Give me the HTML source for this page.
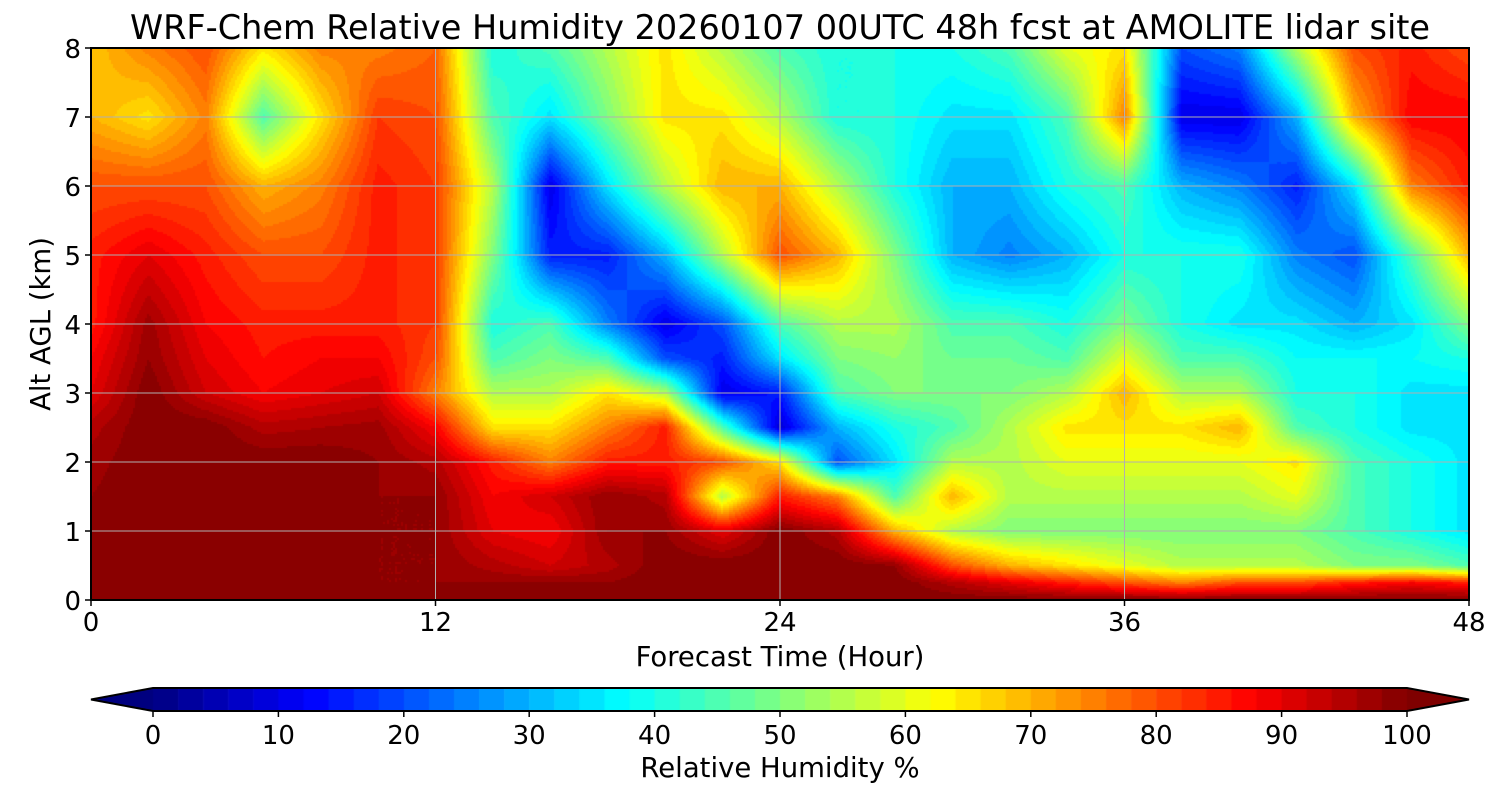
<!DOCTYPE html>
<html><head><meta charset="utf-8"><style>
body{margin:0;background:#fff;width:1500px;height:800px;overflow:hidden;font-family:"Liberation Sans","DejaVu Sans",sans-serif}
svg text{font-family:"DejaVu Sans","Liberation Sans",sans-serif}
</style></head><body>
<div style="position:relative;width:1500px;height:800px">
<canvas id="cv" width="1500" height="800" style="position:absolute;left:0;top:0"></canvas>
<svg id="sv" width="1500" height="800" style="position:absolute;left:0;top:0"></svg>
</div>
<script>
const times=[0,2,4,6,8,10,12,14,16,18,20,22,24,26,28,30,32,34,36,38,40,42,44,46,48];
const heights=[0,0.25,0.5,1,1.5,2,2.5,3,3.5,4,5,6,7,8];
const rh=[
[98,98,98,98,98,97,95,90,88,85,85,80,70,68],
[100,100,100,100,100,100,100,100,98,97,90,80,65,75],
[100,100,100,100,100,100,100,92,90,88,85,80,75,80],
[100,100,100,100,100,100,95,88,86,85,80,70,45,65],
[100,100,100,100,100,100,96,90,88,85,80,75,65,75],
[98,98,98,98,98,98,97,92,88,85,85,85,82,75],
[100,98,98,98,98,95,88,75,80,82,82,82,80,78],
[100,98,95,90,88,85,65,55,45,40,50,55,45,40],
[100,98,92,88,92,75,65,55,50,45,15,10,35,45],
[100,98,95,98,98,85,75,65,45,25,15,35,50,55],
[100,100,100,98,95,85,85,55,20,10,30,55,65,65],
[100,100,100,90,55,80,45,10,15,20,55,70,65,55],
[100,100,100,100,85,65,8,15,35,45,80,70,55,45],
[100,100,100,95,75,20,30,45,50,55,70,55,40,40],
[100,100,98,70,45,35,40,50,52,55,50,40,40,40],
[100,95,80,55,70,55,45,50,48,45,30,30,35,40],
[100,90,70,50,55,55,55,50,48,45,25,30,35,45],
[100,85,65,50,55,60,65,55,45,40,30,40,45,60],
[100,80,60,50,55,60,65,70,60,50,40,45,75,65],
[100,75,55,50,55,60,65,55,45,40,40,30,10,20],
[100,80,55,50,55,60,70,55,45,35,40,25,10,25],
[100,80,55,50,60,65,45,40,38,35,25,15,30,55],
[100,85,50,45,45,45,40,40,38,30,20,35,70,80],
[100,88,50,40,40,40,35,35,38,35,45,75,88,85],
[100,85,45,35,35,35,35,35,40,50,70,85,88,80]];
const xTicks=[0,12,24,36,48];
const yTicks=[0,1,2,3,4,5,6,7,8];
const cbTicks=[0,10,20,30,40,50,60,70,80,90,100];

const L=91,R=1469,T=48,B=600;
const xs=t=>L+(R-L)*t/48, ys=h=>B-(B-T)*h/8;
const cl=v=>Math.max(0,Math.min(1,v));
function jet(x){return [cl(1.5-Math.abs(4*x-3)),cl(1.5-Math.abs(4*x-2)),cl(1.5-Math.abs(4*x-1))].map(v=>Math.round(v*255));}
const NL=50;
function col(v){let q=Math.floor(Math.max(0,Math.min(99.99,v))/100*NL);const c=jet((q+0.5)/NL);return `rgb(${c[0]},${c[1]},${c[2]})`;}
function idx(arr,v){for(let i=0;i<arr.length-1;i++){if(v<=arr[i+1])return [i,(v-arr[i])/(arr[i+1]-arr[i])];}return [arr.length-2,1];}
function val(t,h){const [i,fx]=idx(times,t),[j,fy]=idx(heights,h);
 return rh[i][j]*(1-fx)*(1-fy)+rh[i+1][j]*fx*(1-fy)+rh[i][j+1]*(1-fx)*fy+rh[i+1][j+1]*fx*fy;}
const ctx=document.getElementById('cv').getContext('2d');
const S=2;
for(let px=L;px<R;px+=S){for(let py=T;py<B;py+=S){
 const t=(px+S/2-L)/(R-L)*48,h=(B-(py+S/2))/(B-T)*8;
 ctx.fillStyle=col(val(t,h));ctx.fillRect(px,py,S,S);}}
const CL=153,CR=1407,CT=688,CB=711;
for(let q=0;q<NL;q++){const c=jet((q+0.5)/NL);ctx.fillStyle=`rgb(${c[0]},${c[1]},${c[2]})`;
 const x0=CL+(CR-CL)*q/NL;ctx.fillRect(x0,CT,(CR-CL)/NL+0.6,CB-CT);}
ctx.fillStyle='rgb(0,0,127)';ctx.beginPath();ctx.moveTo(CL,CT);ctx.lineTo(91,(CT+CB)/2);ctx.lineTo(CL,CB);ctx.fill();
ctx.fillStyle='rgb(127,0,0)';ctx.beginPath();ctx.moveTo(CR,CT);ctx.lineTo(1469,(CT+CB)/2);ctx.lineTo(CR,CB);ctx.fill();

const sv=document.getElementById('sv');const NS='http://www.w3.org/2000/svg';
function mk(tag,at,name,txt){const e=document.createElementNS(NS,tag);for(const k in at)e.setAttribute(k,at[k]);
 
 
 if(txt!==undefined)e.textContent=txt;sv.appendChild(e);return e;}
xTicks.forEach(t=>{const x=xs(t);
 mk('line',{x1:x,x2:x,y1:T,y2:B,stroke:'#b0b0b0','stroke-width':1},'x-gridline');
 mk('line',{x1:x,x2:x,y1:B,y2:B+6,stroke:'#000','stroke-width':1.5},'x-tick');
 mk('text',{x:x,y:B+31,'font-size':26,'text-anchor':'middle'},'x-tick-label',t);});
yTicks.forEach(h=>{const y=ys(h);
 mk('line',{x1:L,x2:R,y1:y,y2:y,stroke:'#b0b0b0','stroke-width':1},'y-gridline');
 mk('line',{x1:L-6,x2:L,y1:y,y2:y,stroke:'#000','stroke-width':1.5},'y-tick');
 mk('text',{x:L-10,y:y+10,'font-size':26,'text-anchor':'end'},'y-tick-label',h);});
mk('rect',{x:L,y:T,width:R-L,height:B-T,fill:'none',stroke:'#000','stroke-width':2},'plot-frame');
mk('text',{x:780,y:39,'font-size':33.5,'text-anchor':'middle'},'chart-title','WRF-Chem Relative Humidity 20260107 00UTC 48h fcst at AMOLITE lidar site');
mk('text',{x:780,y:666,'font-size':27.5,'text-anchor':'middle'},'x-axis-title','Forecast Time (Hour)');
mk('text',{x:50,y:324,'font-size':27.5,'text-anchor':'middle',transform:'rotate(-90 50 324)'},'y-axis-title','Alt AGL (km)');
mk('polygon',{points:`${CL},${CT} ${CR},${CT} 1469,${(CT+CB)/2} ${CR},${CB} ${CL},${CB} 91,${(CT+CB)/2}`,fill:'none',stroke:'#000','stroke-width':2},'colorbar-frame');
cbTicks.forEach(v=>{const x=CL+(CR-CL)*v/100;
 mk('line',{x1:x,x2:x,y1:CB,y2:CB+6,stroke:'#000','stroke-width':1.5},'colorbar-tick');
 mk('text',{x:x,y:CB+33,'font-size':26,'text-anchor':'middle'},'colorbar-tick-label',v);});
mk('text',{x:780,y:777,'font-size':27.5,'text-anchor':'middle'},'colorbar-title','Relative Humidity %');
</script>
</body></html>
